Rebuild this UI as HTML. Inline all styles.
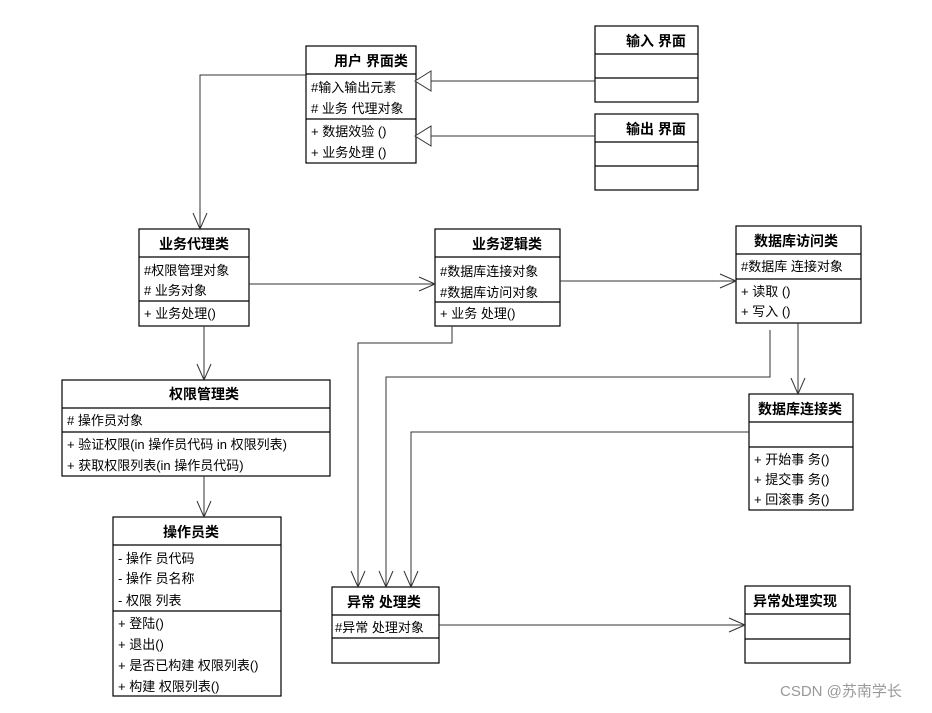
<!DOCTYPE html>
<html><head><meta charset="utf-8"><style>
html,body{margin:0;padding:0;background:#fff;}
svg text{font-family:"Liberation Sans","Noto Sans CJK SC",sans-serif;font-size:13px;fill:#000;}
.h{font-weight:bold;font-size:14px;}
</style></head><body>
<svg width="932" height="708" viewBox="0 0 932 708" xmlns="http://www.w3.org/2000/svg">
<g fill="none" stroke="#000" stroke-width="1.2">
<!-- 用户界面类 -->
<rect x="306" y="46" width="110" height="117"/><line x1="306" y1="74" x2="416" y2="74"/><line x1="306" y1="119" x2="416" y2="119"/>
<!-- 输入界面 -->
<rect x="595" y="26" width="103" height="76"/><line x1="595" y1="54" x2="698" y2="54"/><line x1="595" y1="78" x2="698" y2="78"/>
<!-- 输出界面 -->
<rect x="595" y="114" width="103" height="76"/><line x1="595" y1="142" x2="698" y2="142"/><line x1="595" y1="166" x2="698" y2="166"/>
<!-- 业务代理类 -->
<rect x="139" y="229" width="110" height="97"/><line x1="139" y1="257" x2="249" y2="257"/><line x1="139" y1="301" x2="249" y2="301"/>
<!-- 业务逻辑类 -->
<rect x="435" y="229" width="125" height="97"/><line x1="435" y1="257" x2="560" y2="257"/><line x1="435" y1="302" x2="560" y2="302"/>
<!-- 数据库访问类 -->
<rect x="736" y="226" width="125" height="97"/><line x1="736" y1="254" x2="861" y2="254"/><line x1="736" y1="279" x2="861" y2="279"/>
<!-- 数据库连接类 -->
<rect x="749" y="394" width="104" height="116"/><line x1="749" y1="422" x2="853" y2="422"/><line x1="749" y1="447" x2="853" y2="447"/>
<!-- 权限管理类 -->
<rect x="62" y="380" width="268" height="96"/><line x1="62" y1="408" x2="330" y2="408"/><line x1="62" y1="432" x2="330" y2="432"/>
<!-- 操作员类 -->
<rect x="113" y="517" width="168" height="179"/><line x1="113" y1="545" x2="281" y2="545"/><line x1="113" y1="611" x2="281" y2="611"/>
<!-- 异常处理类 -->
<rect x="332" y="587" width="107" height="76"/><line x1="332" y1="615" x2="439" y2="615"/><line x1="332" y1="638" x2="439" y2="638"/>
<!-- 异常处理实现 -->
<rect x="745" y="586" width="105" height="77"/><line x1="745" y1="614" x2="850" y2="614"/><line x1="745" y1="639" x2="850" y2="639"/>
</g>
<g fill="none" stroke="#333" stroke-width="1">
<!-- inheritance -->
<line x1="595" y1="81" x2="431" y2="81"/><polygon points="415,81 431,71 431,91" fill="#fff"/>
<line x1="595" y1="136" x2="431" y2="136"/><polygon points="415,136 431,126 431,146" fill="#fff"/>
<!-- associations -->
<polyline points="306,75 200,75 200,229"/><polyline points="193,213 200,229 207,213"/>
<line x1="249" y1="284" x2="435" y2="284"/><polyline points="419,277 435,284 419,291"/>
<line x1="560" y1="281" x2="736" y2="281"/><polyline points="720,274 736,281 720,288"/>
<line x1="798" y1="323" x2="798" y2="394"/><polyline points="791,378 798,394 805,378"/>
<line x1="204" y1="326" x2="204" y2="380"/><polyline points="197,364 204,380 211,364"/>
<line x1="204" y1="476" x2="204" y2="517"/><polyline points="197,501 204,517 211,501"/>
<polyline points="452,326 452,343 358,343 358,587"/><polyline points="351,571 358,587 365,571"/>
<polyline points="770,330 770,377 386,377 386,587"/><polyline points="379,571 386,587 393,571"/>
<polyline points="749,432 411,432 411,587"/><polyline points="404,571 411,587 418,571"/>
<line x1="439" y1="625" x2="745" y2="625"/><polyline points="729,618 745,625 729,632"/>
</g>
<text class="h" x="334" y="66">用户 界面类</text>
<text x="311" y="92">#输入输出元素</text><text x="311" y="113">#  业务 代理对象</text>
<text x="311" y="136">+  数据效验 ()</text><text x="311" y="157">+  业务处理 ()</text>
<text class="h" x="626" y="46">输入 界面</text>
<text class="h" x="626" y="134">输出 界面</text>
<text class="h" x="159" y="249">业务代理类</text>
<text x="144" y="275">#权限管理对象</text><text x="144" y="295">#  业务对象</text><text x="144" y="318">+  业务处理()</text>
<text class="h" x="472" y="249">业务逻辑类</text>
<text x="440" y="276">#数据库连接对象</text><text x="440" y="297">#数据库访问对象</text><text x="440" y="318">+  业务 处理()</text>
<text class="h" x="754" y="246">数据库访问类</text>
<text x="741" y="271">#数据库 连接对象</text><text x="741" y="296">+  读取 ()</text><text x="741" y="316">+  写入 ()</text>
<text class="h" x="758" y="414">数据库连接类</text>
<text x="754" y="464">+  开始事 务()</text><text x="754" y="484">+  提交事 务()</text><text x="754" y="504">+  回滚事 务()</text>
<text class="h" x="169" y="399">权限管理类</text>
<text x="67" y="425">#  操作员对象</text>
<text x="67" y="449">+ 验证权限(in  操作员代码 in  权限列表)</text>
<text x="67" y="470">+  获取权限列表(in  操作员代码)</text>
<text class="h" x="163" y="537">操作员类</text>
<text x="118" y="563">-  操作 员代码</text><text x="118" y="583">-  操作 员名称</text><text x="118" y="605">-  权限 列表</text>
<text x="118" y="628">+ 登陆()</text><text x="118" y="649">+ 退出()</text><text x="118" y="670">+    是否已构建 权限列表()</text><text x="118" y="691">+  构建 权限列表()</text>
<text class="h" x="347" y="607">异常 处理类</text>
<text x="335" y="632">#异常 处理对象</text>
<text class="h" x="753" y="606">异常处理实现</text>
<text x="780" y="696" style="font-size:15px;fill:#999">CSDN @苏南学长</text>
</svg>
</body></html>
